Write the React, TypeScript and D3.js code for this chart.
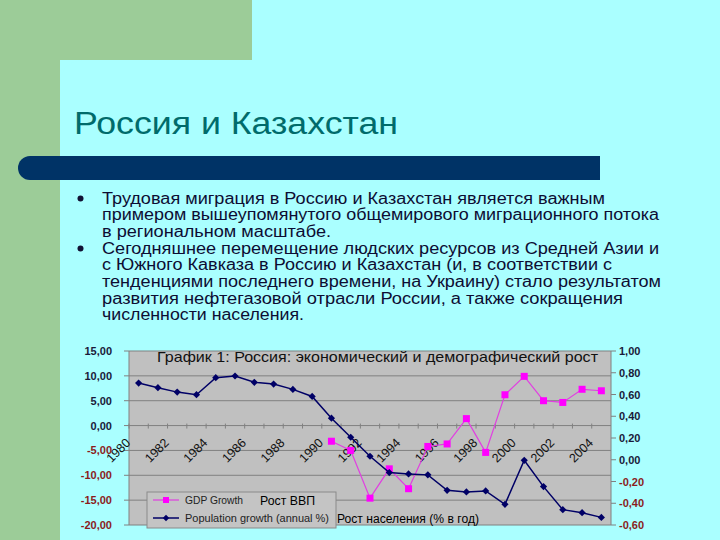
import React from 'react';
import * as d3 from 'd3';

// years on the category axis
const years = d3.range(1980, 2005).map(String);

// population growth, % per year (right axis)
const population = [
  0.705, 0.663, 0.622, 0.598, 0.755, 0.77, 0.712, 0.696, 0.647, 0.582,
  0.382, 0.207, 0.032, -0.118, -0.13, -0.139, -0.281, -0.296, -0.287, -0.41,
  -0.005, -0.247, -0.459, -0.487, -0.53,
];

// GDP growth, % (left axis), starts in 1990
const gdpYears = d3.range(1990, 2005).map(String);
const gdp = [-3.15, -5.0, -14.6, -8.7, -12.7, -4.2, -3.7, 1.4, -5.4, 6.2, 9.9, 5.0, 4.65, 7.3, 7.0];

const leftTicks = [15, 10, 5, 0, -5, -10, -15, -20];
const rightTicks = [1, 0.8, 0.6, 0.4, 0.2, 0, -0.2, -0.4, -0.6];
const labelYears = years.filter((y) => +y % 2 === 0);

// slide text, one entry per rendered line (w = measured line width)
const bullets = [
  [
    { t: 'Трудовая миграция в Россию и Казахстан является важным', w: 503 },
    { t: 'примером вышеупомянутого общемирового миграционного потока', w: 557 },
    { t: 'в региональном масштабе.', w: 229 },
  ],
  [
    { t: 'Сегодняшнее перемещение людских ресурсов из Средней Азии и', w: 557 },
    { t: 'с Южного Кавказа в Россию и Казахстан (и, в соответствии с', w: 510 },
    { t: 'тенденциями последнего времени, на Украину) стало результатом', w: 559 },
    { t: 'развития нефтегазовой отрасли России, а также сокращения', w: 521 },
    { t: 'численности населения.', w: 202 },
  ],
];

const FONT = '"Liberation Sans", Arial, sans-serif';
const fmt = (v: number) => d3.format('.2f')(v).replace('.', ',').replace('\u2212', '-');

export default function App() {
  const plot = { left: 129, right: 611, top: 351, bottom: 525 };
  const x = d3.scaleBand().domain(years).range([plot.left, plot.right]);
  const yL = d3.scaleLinear().domain([-20, 15]).range([plot.bottom, plot.top]);
  const yR = d3.scaleLinear().domain([-0.6, 1]).range([plot.bottom, plot.top]);
  const cx = (y: string) => (x(y) ?? 0) + x.bandwidth() / 2;

  const popLine = d3.line<number>().x((_, i) => cx(years[i])).y((d) => yR(d))(population) ?? '';
  const gdpLine = d3.line<number>().x((_, i) => cx(gdpYears[i])).y((d) => yL(d))(gdp) ?? '';
  const zeroY = yL(0);

  const diamond = (px: number, py: number, r = 3.6) =>
    `M${px},${py - r}L${px + r},${py}L${px},${py + r}L${px - r},${py}Z`;

  let lineNo = 0;

  return (
    <svg width={720} height={540} style={{ position: 'absolute', left: 0, top: 0 }} fontFamily={FONT}>
      {/* slide background */}
      <rect width={720} height={540} fill="#aaffff" />
      <rect x={0} y={0} width={252} height={60} fill="#9ccc98" />
      <rect x={0} y={0} width={60} height={540} fill="#9ccc98" />
      <path d="M60,540V83A23,23 0 0 1 83,60H720V540Z" fill="#aaffff" />
      <text x={74} y={134} fontSize={31} fill="#006b6b" textLength={324} lengthAdjust="spacingAndGlyphs">
        Россия и Казахстан
      </text>
      <path d="M30,156H600V180H30A12,12 0 0 1 30,156Z" fill="#003366" />

      {/* bullet text */}
      {bullets.map((para, pi) =>
        para.map((ln, li) => {
          const by = 203.5 + 16.7 * lineNo++;
          return (
            <g key={`${pi}-${li}`}>
              {li === 0 && <circle cx={80.5} cy={by - 5} r={3} fill="#111133" />}
              <text x={102} y={by} fontSize={16} fill="#0d0d33" textLength={ln.w} lengthAdjust="spacingAndGlyphs">
                {ln.t}
              </text>
            </g>
          );
        })
      )}

      {/* plot area */}
      <rect x={plot.left} y={plot.top} width={plot.right - plot.left} height={plot.bottom - plot.top} fill="#c0c0c0" />
      {leftTicks.map((t) => (
        <line key={t} x1={plot.left - 5} x2={plot.right} y1={yL(t)} y2={yL(t)} stroke="#808080" strokeWidth={1} />
      ))}
      {years.map((y) => (
        <line key={y} x1={x(y)} x2={x(y)} y1={zeroY - 2} y2={zeroY + 3} stroke="#808080" />
      ))}
      <line x1={plot.right} x2={plot.right} y1={plot.top} y2={plot.bottom} stroke="#808080" />
      <line x1={plot.left} x2={plot.left} y1={plot.top} y2={plot.bottom} stroke="#808080" />
      {rightTicks.map((t) => (
        <line key={t} x1={plot.right} x2={plot.right + 5} y1={yR(t)} y2={yR(t)} stroke="#808080" />
      ))}

      <text x={157} y={362} fontSize={15} fill="#111" textLength={441} lengthAdjust="spacingAndGlyphs">
        График 1: Россия: экономический и демографический рост
      </text>

      {/* axis labels */}
      {leftTicks.map((t) => (
        <text key={t} x={112} y={yL(t) + 4} fontSize={11} fontWeight="bold" textAnchor="end" fill={t < 0 ? '#8b1c1c' : '#1a1a3a'}>
          {fmt(t)}
        </text>
      ))}
      {rightTicks.map((t) => (
        <text key={t} x={619} y={yR(t) + 4} fontSize={11} fontWeight="bold" fill={t < 0 ? '#8b1c1c' : '#1a1a3a'}>
          {fmt(t)}
        </text>
      ))}
      {labelYears.map((y) => {
        const ax = cx(y) - 7.5;
        const ay = zeroY + 18;
        return (
          <text key={y} x={ax} y={ay} fontSize={12.5} textAnchor="end" fill="#111" transform={`rotate(-45,${ax},${ay})`}>
            {y}
          </text>
        );
      })}

      {/* series */}
      <path d={gdpLine} fill="none" stroke="#e040e0" strokeWidth={1.2} />
      {gdp.map((v, i) => (
        <rect key={i} x={cx(gdpYears[i]) - 3.5} y={yL(v) - 3.5} width={7} height={7} fill="#ff00ff" />
      ))}
      <path d={popLine} fill="none" stroke="#000066" strokeWidth={1.5} />
      {population.map((v, i) => (
        <path key={i} d={diamond(cx(years[i]), yR(v))} fill="#000066" />
      ))}

      {/* legend */}
      <rect x={147} y={492} width={189} height={36} fill="#c4c4c4" stroke="#8a8a8a" />
      <line x1={153} x2={179} y1={500} y2={500} stroke="#e040e0" strokeWidth={1.2} />
      <rect x={163} y={497} width={6} height={6} fill="#ff00ff" />
      <text x={185} y={504} fontSize={10.5} fill="#222" textLength={58} lengthAdjust="spacingAndGlyphs">GDP Growth</text>
      <line x1={153} x2={179} y1={518} y2={518} stroke="#000066" strokeWidth={1.5} />
      <path d={diamond(166, 518, 3.2)} fill="#000066" />
      <text x={185} y={522} fontSize={10.5} fill="#222" textLength={144} lengthAdjust="spacingAndGlyphs">
        Population growth (annual %)
      </text>
      <text x={260} y={505} fontSize={13} fill="#000" textLength={55} lengthAdjust="spacingAndGlyphs">Рост ВВП</text>
      <text x={337} y={523} fontSize={12.5} fill="#000" textLength={142} lengthAdjust="spacingAndGlyphs">
        Рост населения (% в год)
      </text>
    </svg>
  );
}
